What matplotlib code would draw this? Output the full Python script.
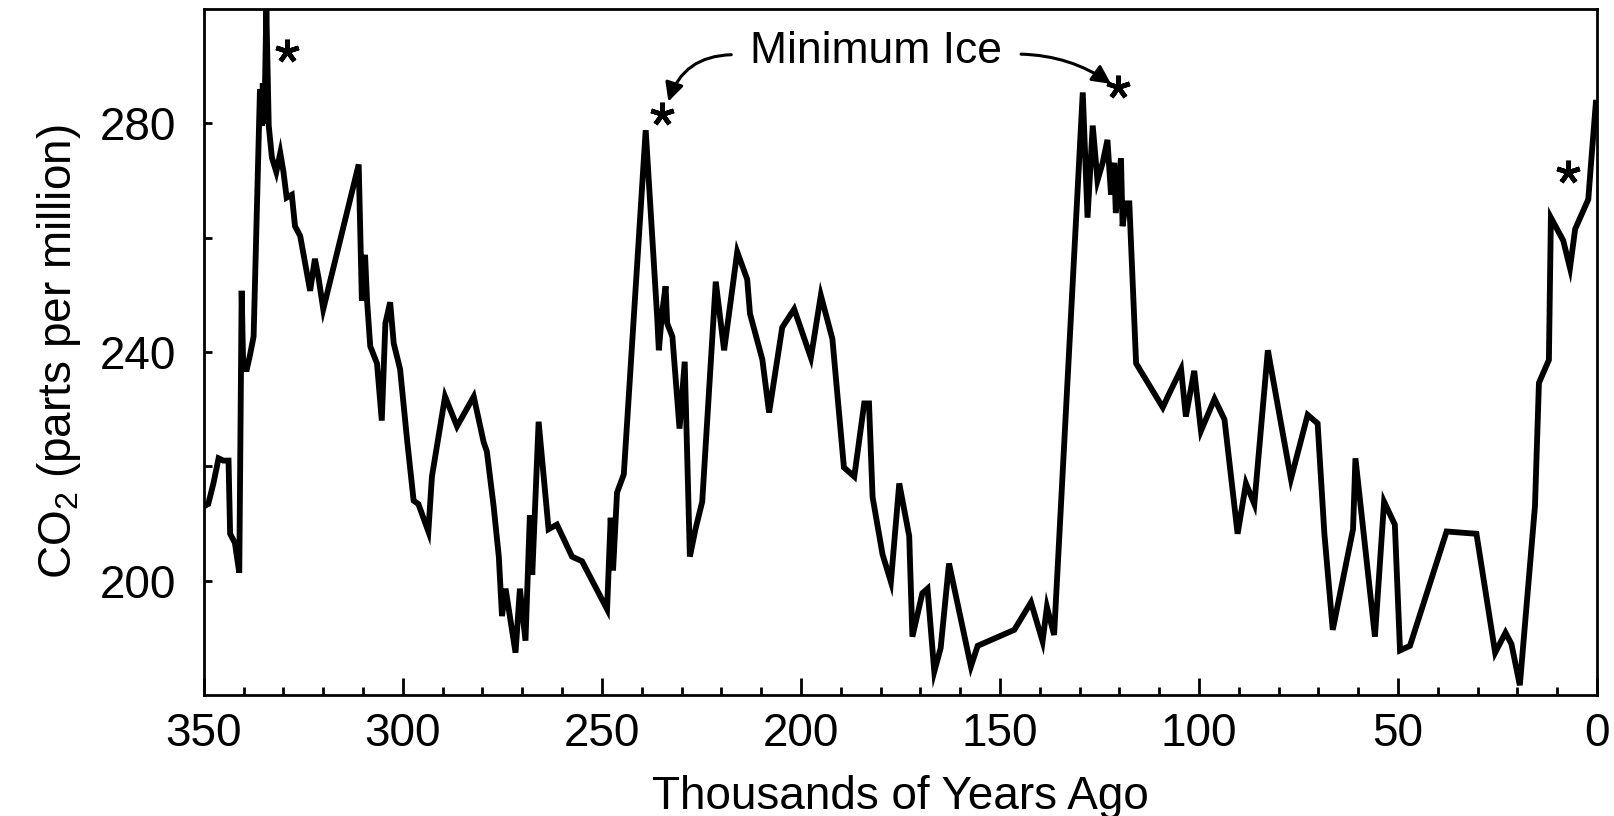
import numpy as np
import matplotlib
matplotlib.use("Agg")
import matplotlib.pyplot as plt

plt.rcParams['font.family'] = ['Liberation Sans', 'DejaVu Sans']
plt.rcParams['mathtext.fontset'] = 'custom'
plt.rcParams['mathtext.rm'] = 'Liberation Sans'
plt.rcParams['mathtext.default'] = 'regular'

# Vostok-style CO2 record (kyr ago, ppm)
ages = [350, 348.9, 347.6, 346.3, 345.1, 343.8, 343.4, 342.2, 341.1, 340.5,
        340.1, 339.2, 338.4, 337.5, 335.9, 335.4, 335.2, 334.8, 334.3, 333.7,
        332.9, 331.8, 330.8, 330.0, 329.2, 327.9, 327.1, 325.8, 323.3, 322.1,
        321.2, 320.0, 311.1, 310.3, 309.5, 309.0, 308.2, 306.5, 305.3, 304.4,
        303.2, 302.3, 300.7, 299.0, 297.3, 296.1, 293.6, 292.7, 289.4, 286.4,
        282.2, 279.7, 278.9, 277.2, 275.9, 275.1, 274.2, 271.7, 270.6, 269.2,
        268.1, 267.5, 265.9, 263.4, 261.3, 257.5, 255.0, 248.7, 247.8, 247.2,
        246.2, 244.5, 239.0, 236.1, 235.7, 234.9, 234.0, 233.6, 232.3, 230.5,
        229.2, 227.9, 226.5, 224.8, 221.4, 219.3, 216.0, 213.5, 212.8, 209.7,
        208.0, 204.7, 201.7, 197.5, 195.0, 192.1, 189.2, 186.6, 184.1, 182.9,
        182.0, 179.5, 177.4, 175.3, 172.8, 172.0, 169.5, 168.2, 166.5, 164.9,
        162.8, 157.3, 155.6, 146.4, 142.2, 139.3, 138.2, 136.4, 129.2, 128.0,
        126.7, 125.5, 124.2, 123.0, 122.1, 121.3, 120.9, 119.6, 119.2, 118.4,
        117.5, 115.8, 109.1, 107.5, 104.5, 103.3, 101.2, 99.5, 96.1, 93.6,
        90.3, 88.2, 86.1, 82.7, 76.9, 72.7, 70.2, 68.5, 66.4, 61.3,
        60.7, 55.8, 53.5, 50.8, 49.5, 47.0, 37.8, 30.3, 25.6, 23.0,
        21.5, 19.4, 15.6, 14.6, 12.1, 11.6, 8.5, 6.8, 5.5, 2.2,
        1.5, 0.3]
co2 = [213.0, 213.4, 217.0, 221.4, 221.0, 221.0, 208.2, 206.6, 201.4, 250.7,
       237.0, 237.0, 239.5, 242.7, 286.0, 279.6, 287.0, 280.0, 300.0, 279.6,
       274.0, 271.5, 274.8, 271.5, 267.0, 267.5, 262.0, 260.3, 250.7, 256.3,
       253.0, 247.5, 272.8, 249.0, 257.0, 249.0, 241.0, 238.0, 228.0, 245.0,
       248.7, 241.5, 237.0, 225.0, 214.0, 213.4, 208.6, 218.2, 232.2, 227.0,
       232.2, 224.2, 222.6, 213.0, 204.2, 193.8, 198.6, 187.4, 198.6, 189.5,
       211.4, 201.0, 227.8, 209.0, 209.8, 204.2, 203.4, 195.0, 211.0, 201.8,
       215.4, 218.6, 278.8, 245.9, 240.3, 246.7, 251.5, 245.0, 242.7, 226.6,
       238.3, 204.2, 209.0, 213.8, 252.3, 240.3, 257.5, 252.7, 246.7, 238.7,
       229.4, 244.3, 247.5, 239.0, 249.9, 242.3, 219.8, 218.2, 231.0, 231.0,
       214.6, 204.6, 199.8, 217.0, 207.8, 190.2, 197.8, 198.6, 184.1, 188.2,
       203.0, 185.0, 188.6, 191.4, 196.2, 189.4, 195.4, 190.5, 285.4, 263.5,
       279.6, 270.0, 273.1, 277.1, 267.5, 273.1, 264.3, 273.9, 262.0, 266.0,
       266.0, 238.0, 230.3, 232.7, 237.0, 228.7, 236.7, 226.2, 231.8, 228.2,
       208.2, 217.0, 213.4, 240.3, 217.8, 229.0, 227.5, 208.2, 191.4, 209.0,
       221.4, 190.2, 213.8, 209.8, 187.8, 188.6, 208.6, 208.2, 187.4, 190.9,
       188.9, 181.7, 213.0, 234.6, 238.6, 263.5, 259.5, 254.7, 261.5, 266.7,
       273.1, 283.6]

# interglacial markers
star_ages = [329.0, 235.0, 120.3, 7.4]
star_co2 = [292.6, 281.7, 286.4, 271.5]

x_ticks = [350, 300, 250, 200, 150, 100, 50, 0]
y_ticks = [200, 240, 280]

fig = plt.figure(figsize=(16.14, 8.16), dpi=100)
ax = fig.add_axes([0.1263, 0.1483, 0.8632, 0.8407])

ax.plot(ages, co2, color='black', linewidth=4.2, solid_joinstyle='miter')
ax.plot(star_ages, star_co2, linestyle='none', marker=(5, 2, 0),
        markersize=17, markeredgewidth=3.4, color='black')

ax.text(181.2, 292.6, 'Minimum Ice', fontsize=32, ha='center', va='center')
ax.annotate('', xy=(233.3, 283.8), xytext=(217.5, 292.0),
            arrowprops=dict(arrowstyle='-|>', color='black', lw=2.2,
                            mutation_scale=28, shrinkA=0, shrinkB=0,
                            connectionstyle='arc3,rad=0.35'))
ax.annotate('', xy=(122.1, 286.9), xytext=(144.7, 292.1),
            arrowprops=dict(arrowstyle='-|>', color='black', lw=2.2,
                            mutation_scale=28, shrinkA=0, shrinkB=0,
                            connectionstyle='arc3,rad=-0.15'))

ax.set_xlim(350, 0)
ax.set_ylim(180, 300)
ax.set_xticks(x_ticks)
ax.set_xticks(np.arange(0, 351, 10), minor=True)
ax.set_yticks(y_ticks)
ax.set_yticks([200, 220, 240, 260, 280], minor=True)

ax.tick_params(axis='x', which='major', direction='in', length=12, width=2,
               labelsize=33, pad=12)
ax.tick_params(axis='x', which='minor', direction='in', length=6, width=2)
ax.tick_params(axis='y', which='major', direction='in', length=6, width=2,
               labelsize=33, pad=20)
ax.tick_params(axis='y', which='minor', direction='in', length=6, width=2)

for s in ax.spines.values():
    s.set_linewidth(2)

ax.set_xlabel('Thousands of Years Ago', fontsize=33, labelpad=14)
ax.set_ylabel('CO$_2$ (parts per million)', fontsize=33, labelpad=12)

fig.savefig('out.png', dpi=100)
